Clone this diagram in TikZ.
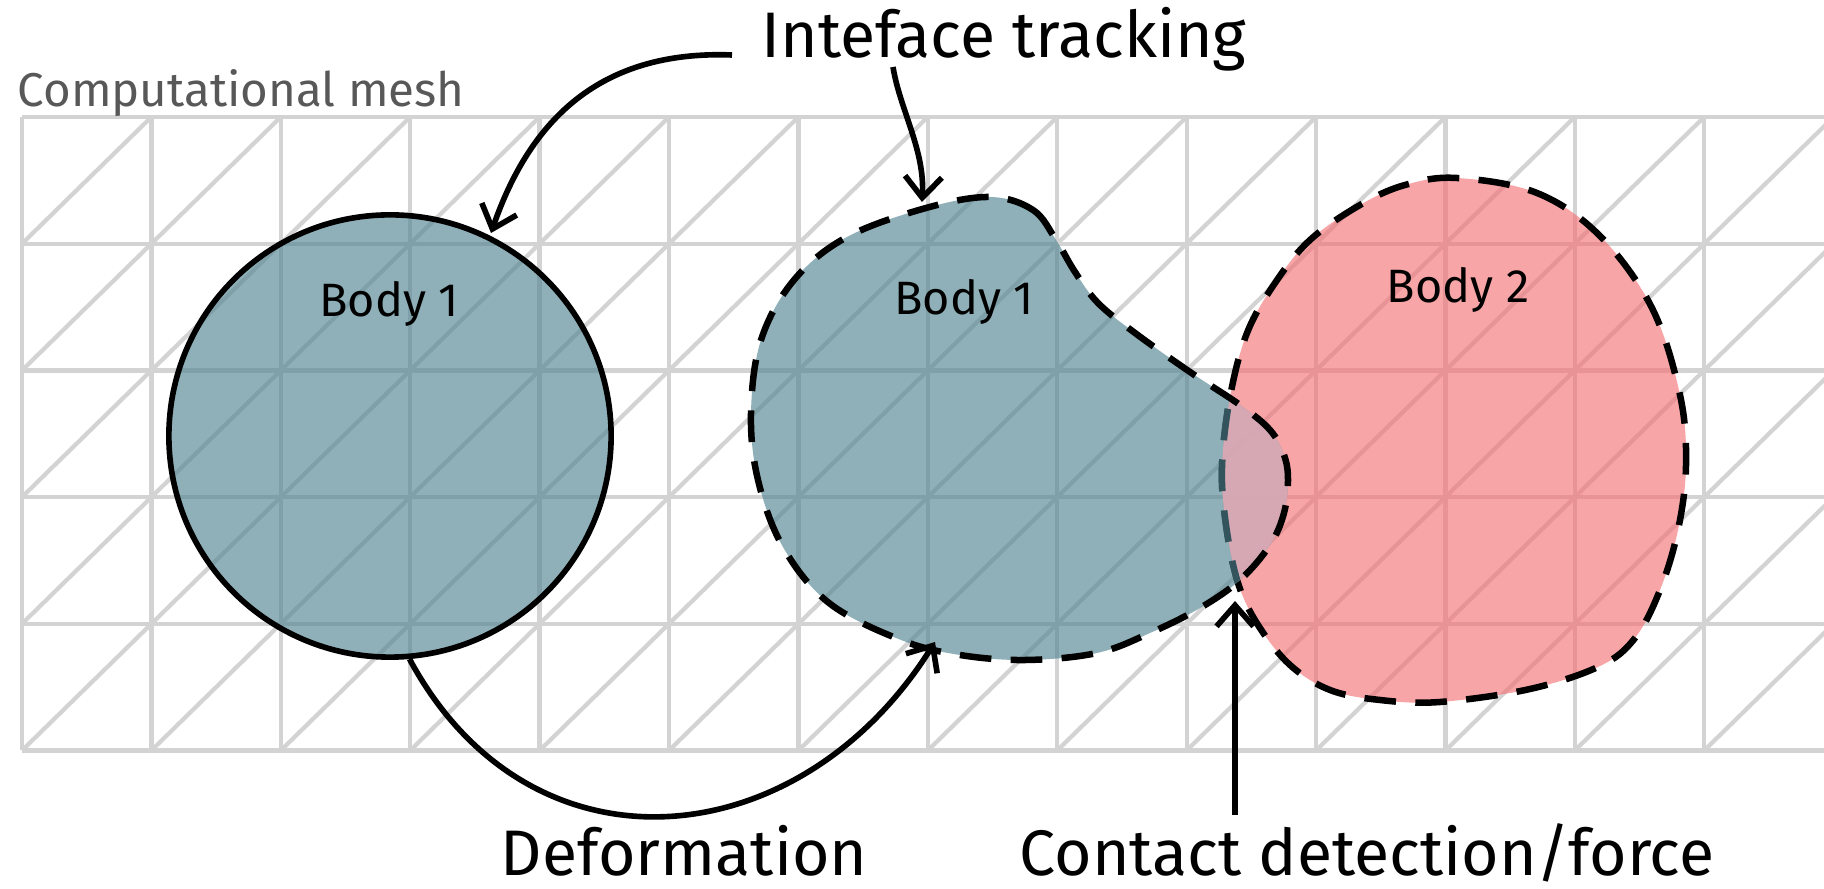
\documentclass[tikz,border=0pt]{standalone}
\usepackage{fontspec}
\setmainfont{Fira Sans}
\usetikzlibrary{arrows.meta}
\definecolor{meshgray}{RGB}{211,211,211}
\definecolor{tealbase}{RGB}{80,132,144}
\definecolor{pinkbase}{RGB}{244,114,117}
\definecolor{mauvefill}{RGB}{226,173,184}
\definecolor{darkteal}{RGB}{51,84,92}
\definecolor{meshtext}{RGB}{88,88,88}
\newcommand{\bodyApath}{plot[smooth cycle, tension=0.6] coordinates {(990,197) (1033,210) (1056,240) (1075,272) (1098,303) (1135,333) (1190,372) (1240,405) (1270,430) (1284,455) (1288,480) (1284,513) (1270,545) (1240,580) (1200,608) (1150,633) (1097,653) (1026,660) (960,655) (901,640) (829,603) (783,547) (758,480) (751,413) (761,340) (794,280) (847,237) (926,208)}}
\newcommand{\bodyBpath}{plot[smooth cycle, tension=0.6] coordinates {(1457,178) (1537,193) (1600,236) (1652,308) (1680,395) (1686,465) (1678,530) (1660,590) (1635,638) (1600,666) (1530,689) (1440,702) (1380,700) (1330,690) (1290,665) (1258,625) (1238,583) (1226,525) (1222,467) (1230,397) (1247,333) (1275,283) (1310,240) (1360,205) (1405,185)}}
\tikzset{
  meshline/.style={draw=meshgray, line width=1.2pt},
  bodyfillA/.style={fill=tealbase, fill opacity=0.64},
  bodyfillB/.style={fill=pinkbase, fill opacity=0.64},
  dashborder/.style={draw=black, line width=1.85pt, dash pattern=on 9pt off 5.5pt},
  conn/.style={draw=black, line width=1.6pt, -{Straight Barb[length=6pt,width=10.5pt]}},
  biglabel/.style={inner sep=0pt, anchor=base west, font=\fontsize{18.3}{22}\selectfont},
  bodylabel/.style={inner sep=0pt, anchor=base, font=\fontsize{13.3}{16}\selectfont},
}
\begin{document}
\begin{tikzpicture}[x=0.01cm, y=-0.01cm]
\useasboundingbox (0,0) rectangle (1824,889);
% mesh
\begin{scope}
\clip (0,0) rectangle (1824,889);
\foreach \i in {0,...,14} {
  \draw[meshline] ({22+129.4*\i},117) -- ({22+129.4*\i},750.5);
}
\foreach \j in {0,...,5} {
  \draw[meshline] (22,{117+126.7*\j}) -- (1830,{117+126.7*\j});
}
\foreach \i in {0,...,13} {
  \foreach \j in {0,...,4} {
    \draw[meshline] ({22+129.4*\i},{117+126.7*(\j+1)}) -- ({22+129.4*(\i+1)},{117+126.7*\j});
  }
}
\end{scope}
\node[inner sep=0pt, anchor=base west, text=meshtext, font=\fontsize{13.5}{16}\selectfont] (mesh) at (17,107) {Computational mesh};
% body 2
\path[bodyfillB] \bodyBpath;
\path[dashborder] \bodyBpath;
% body 1 deformed
\path[bodyfillA] \bodyApath;
\begin{scope}
\clip \bodyApath;
\path[fill=mauvefill, fill opacity=0.85] \bodyBpath;
\path[dashborder, draw=darkteal] \bodyBpath;
\end{scope}
\path[dashborder] \bodyApath;
% body 1 circle
\node[circle, minimum size=4.42cm, inner sep=0pt, bodyfillA, draw=black, line width=1.6pt] (c1) at (390,436) {};
\node[bodylabel] (b1a) at (389,317) {Body 1};
\node[bodylabel] (b1b) at (964,315) {Body 1};
\node[bodylabel] (b2) at (1458,303) {Body 2};
% labels
\node[biglabel] (it) at (761,58) {Inteface tracking};
\node[biglabel] (df) at (500,876) {Deformation};
\node[biglabel] (cd) at (1019,876) {Contact detection/force};
% connector ends
\coordinate (itA) at (732,55);
\coordinate (itB) at (893,67);
\coordinate (tipA) at (491,233);
\coordinate (tipB) at (922,202);
\coordinate (defS) at (c1.-85);
\coordinate (defT) at (935,642);
\coordinate (cdS) at (1235,815);
\coordinate (cdT) at (1235,601);
% connectors
\draw[conn] (itA) .. controls (600,50) and (530,120) .. (tipA);
\draw[conn] (itB) .. controls (900,110) and (925,150) .. (tipB);
\draw[conn] (defS) .. controls (530,883) and (799,859) .. (defT);
\draw[conn] (cdS) -- (cdT);
\end{tikzpicture}
\end{document}
